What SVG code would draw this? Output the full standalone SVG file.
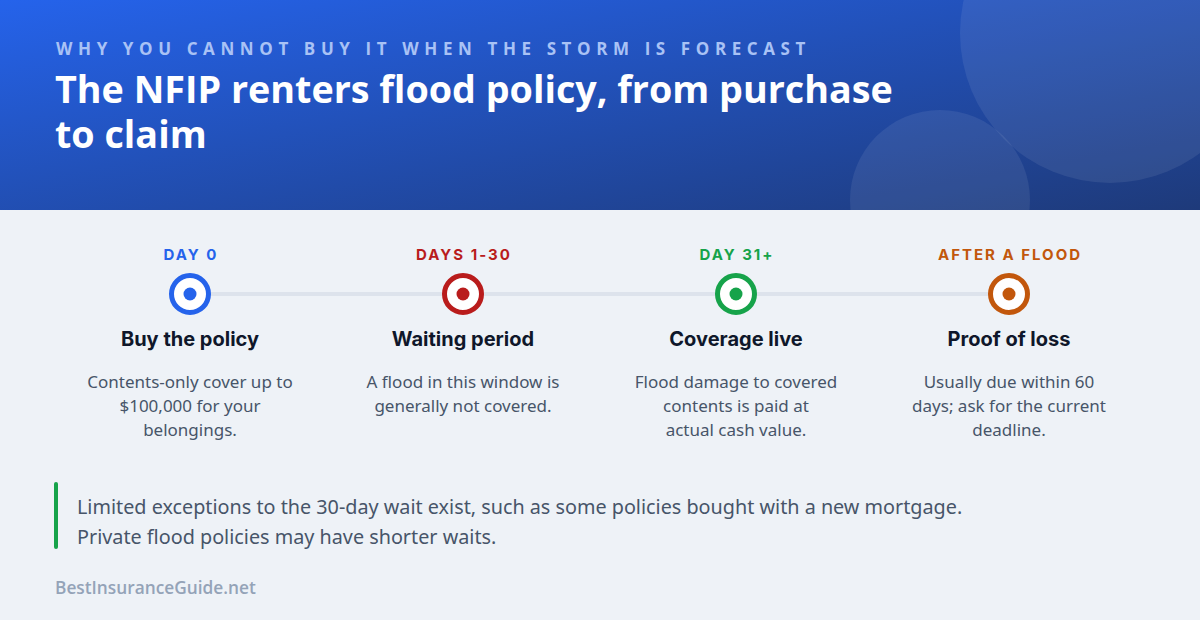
<svg xmlns="http://www.w3.org/2000/svg" width="1200" height="620" viewBox="0 0 1200 620">
  <defs>
    <linearGradient id="hdr" x1="0" y1="0" x2="1" y2="1">
      <stop offset="0" stop-color="#2563eb"/>
      <stop offset="1" stop-color="#1e3a7a"/>
    </linearGradient>
    <style>
      .kicker{font-family:"Open Sans","Noto Sans",sans-serif;font-weight:700;font-size:17px;letter-spacing:5.6px;fill:#a9c2f5}
      .title{font-family:"Open Sans","Noto Sans",sans-serif;font-weight:700;font-size:37.7px;fill:#ffffff}
      .lab{font-family:"Inter","Noto Sans",sans-serif;font-weight:700;font-size:15px;letter-spacing:2px;text-anchor:middle}
      .nt{font-family:"Inter","Noto Sans",sans-serif;font-weight:700;font-size:20px;fill:#0f172a;text-anchor:middle}
      .nd{font-family:"Noto Sans","Open Sans",sans-serif;font-size:17px;fill:#475569;text-anchor:middle}
      .note{font-family:"Noto Sans","Open Sans",sans-serif;font-size:19.8px;fill:#475569}
      .foot{font-family:"Open Sans","Noto Sans",sans-serif;font-weight:600;font-size:17.3px;fill:#94a3b8}
      .ring{fill:#ffffff;stroke-width:5}
    </style>
  </defs>
  <rect width="1200" height="620" fill="#eef2f7"/>
  <g id="header">
    <rect width="1200" height="210" fill="url(#hdr)"/>
    <circle cx="1110" cy="33" r="150" fill="#ffffff" fill-opacity="0.08"/>
    <circle cx="940" cy="200" r="90" fill="#ffffff" fill-opacity="0.08"/>
    <rect y="208" width="1200" height="2" fill="#eef2f7" fill-opacity="0"/>
    <text class="kicker" x="56" y="55">WHY YOU CANNOT BUY IT WHEN THE STORM IS FORECAST</text>
    <text class="title" x="55" y="103">The NFIP renters flood policy, from purchase</text>
    <text class="title" x="55" y="148">to claim</text>
  </g>
  <rect y="210" width="1200" height="410" fill="#eef2f7"/>
  <g id="connectors">
    <line x1="190" y1="294" x2="1009" y2="294" stroke="#dde3ec" stroke-width="4"/>
  </g>
  <g id="node-day0">
    <text class="lab" x="191" y="260" fill="#2563eb">DAY 0</text>
    <circle class="ring" cx="190" cy="294" r="18.5" stroke="#2563eb"/>
    <circle cx="190" cy="294" r="6.5" fill="#2563eb"/>
    <text class="nt" x="190" y="346">Buy the policy</text>
    <text class="nd" x="190" y="388">Contents-only cover up to</text>
    <text class="nd" x="190" y="412">$100,000 for your</text>
    <text class="nd" x="190" y="436">belongings.</text>
  </g>
  <g id="node-days1-30">
    <text class="lab" x="464" y="260" fill="#b91c1c">DAYS 1-30</text>
    <circle class="ring" cx="463" cy="294" r="18.5" stroke="#b91c1c"/>
    <circle cx="463" cy="294" r="6.5" fill="#b91c1c"/>
    <text class="nt" x="463" y="346">Waiting period</text>
    <text class="nd" x="463" y="388">A flood in this window is</text>
    <text class="nd" x="463" y="412">generally not covered.</text>
  </g>
  <g id="node-day31">
    <text class="lab" x="737" y="260" fill="#16a34a">DAY 31+</text>
    <circle class="ring" cx="736" cy="294" r="18.5" stroke="#16a34a"/>
    <circle cx="736" cy="294" r="6.5" fill="#16a34a"/>
    <text class="nt" x="736" y="346">Coverage live</text>
    <text class="nd" x="736" y="388">Flood damage to covered</text>
    <text class="nd" x="736" y="412">contents is paid at</text>
    <text class="nd" x="736" y="436">actual cash value.</text>
  </g>
  <g id="node-after">
    <text class="lab" x="1010" y="260" fill="#c2570c">AFTER A FLOOD</text>
    <circle class="ring" cx="1009" cy="294" r="18.5" stroke="#c2570c"/>
    <circle cx="1009" cy="294" r="6.5" fill="#c2570c"/>
    <text class="nt" x="1009" y="346">Proof of loss</text>
    <text class="nd" x="1009" y="388">Usually due within 60</text>
    <text class="nd" x="1009" y="412">days; ask for the current</text>
    <text class="nd" x="1009" y="436">deadline.</text>
  </g>
  <g id="note">
    <rect x="54" y="482" width="4" height="67" rx="2" fill="#16a34a"/>
    <text class="note" x="77" y="514">Limited exceptions to the 30-day wait exist, such as some policies bought with a new mortgage.</text>
    <text class="note" x="77" y="544">Private flood policies may have shorter waits.</text>
  </g>
  <g id="footer">
    <text class="foot" x="55" y="594">BestInsuranceGuide.net</text>
  </g>
</svg>
